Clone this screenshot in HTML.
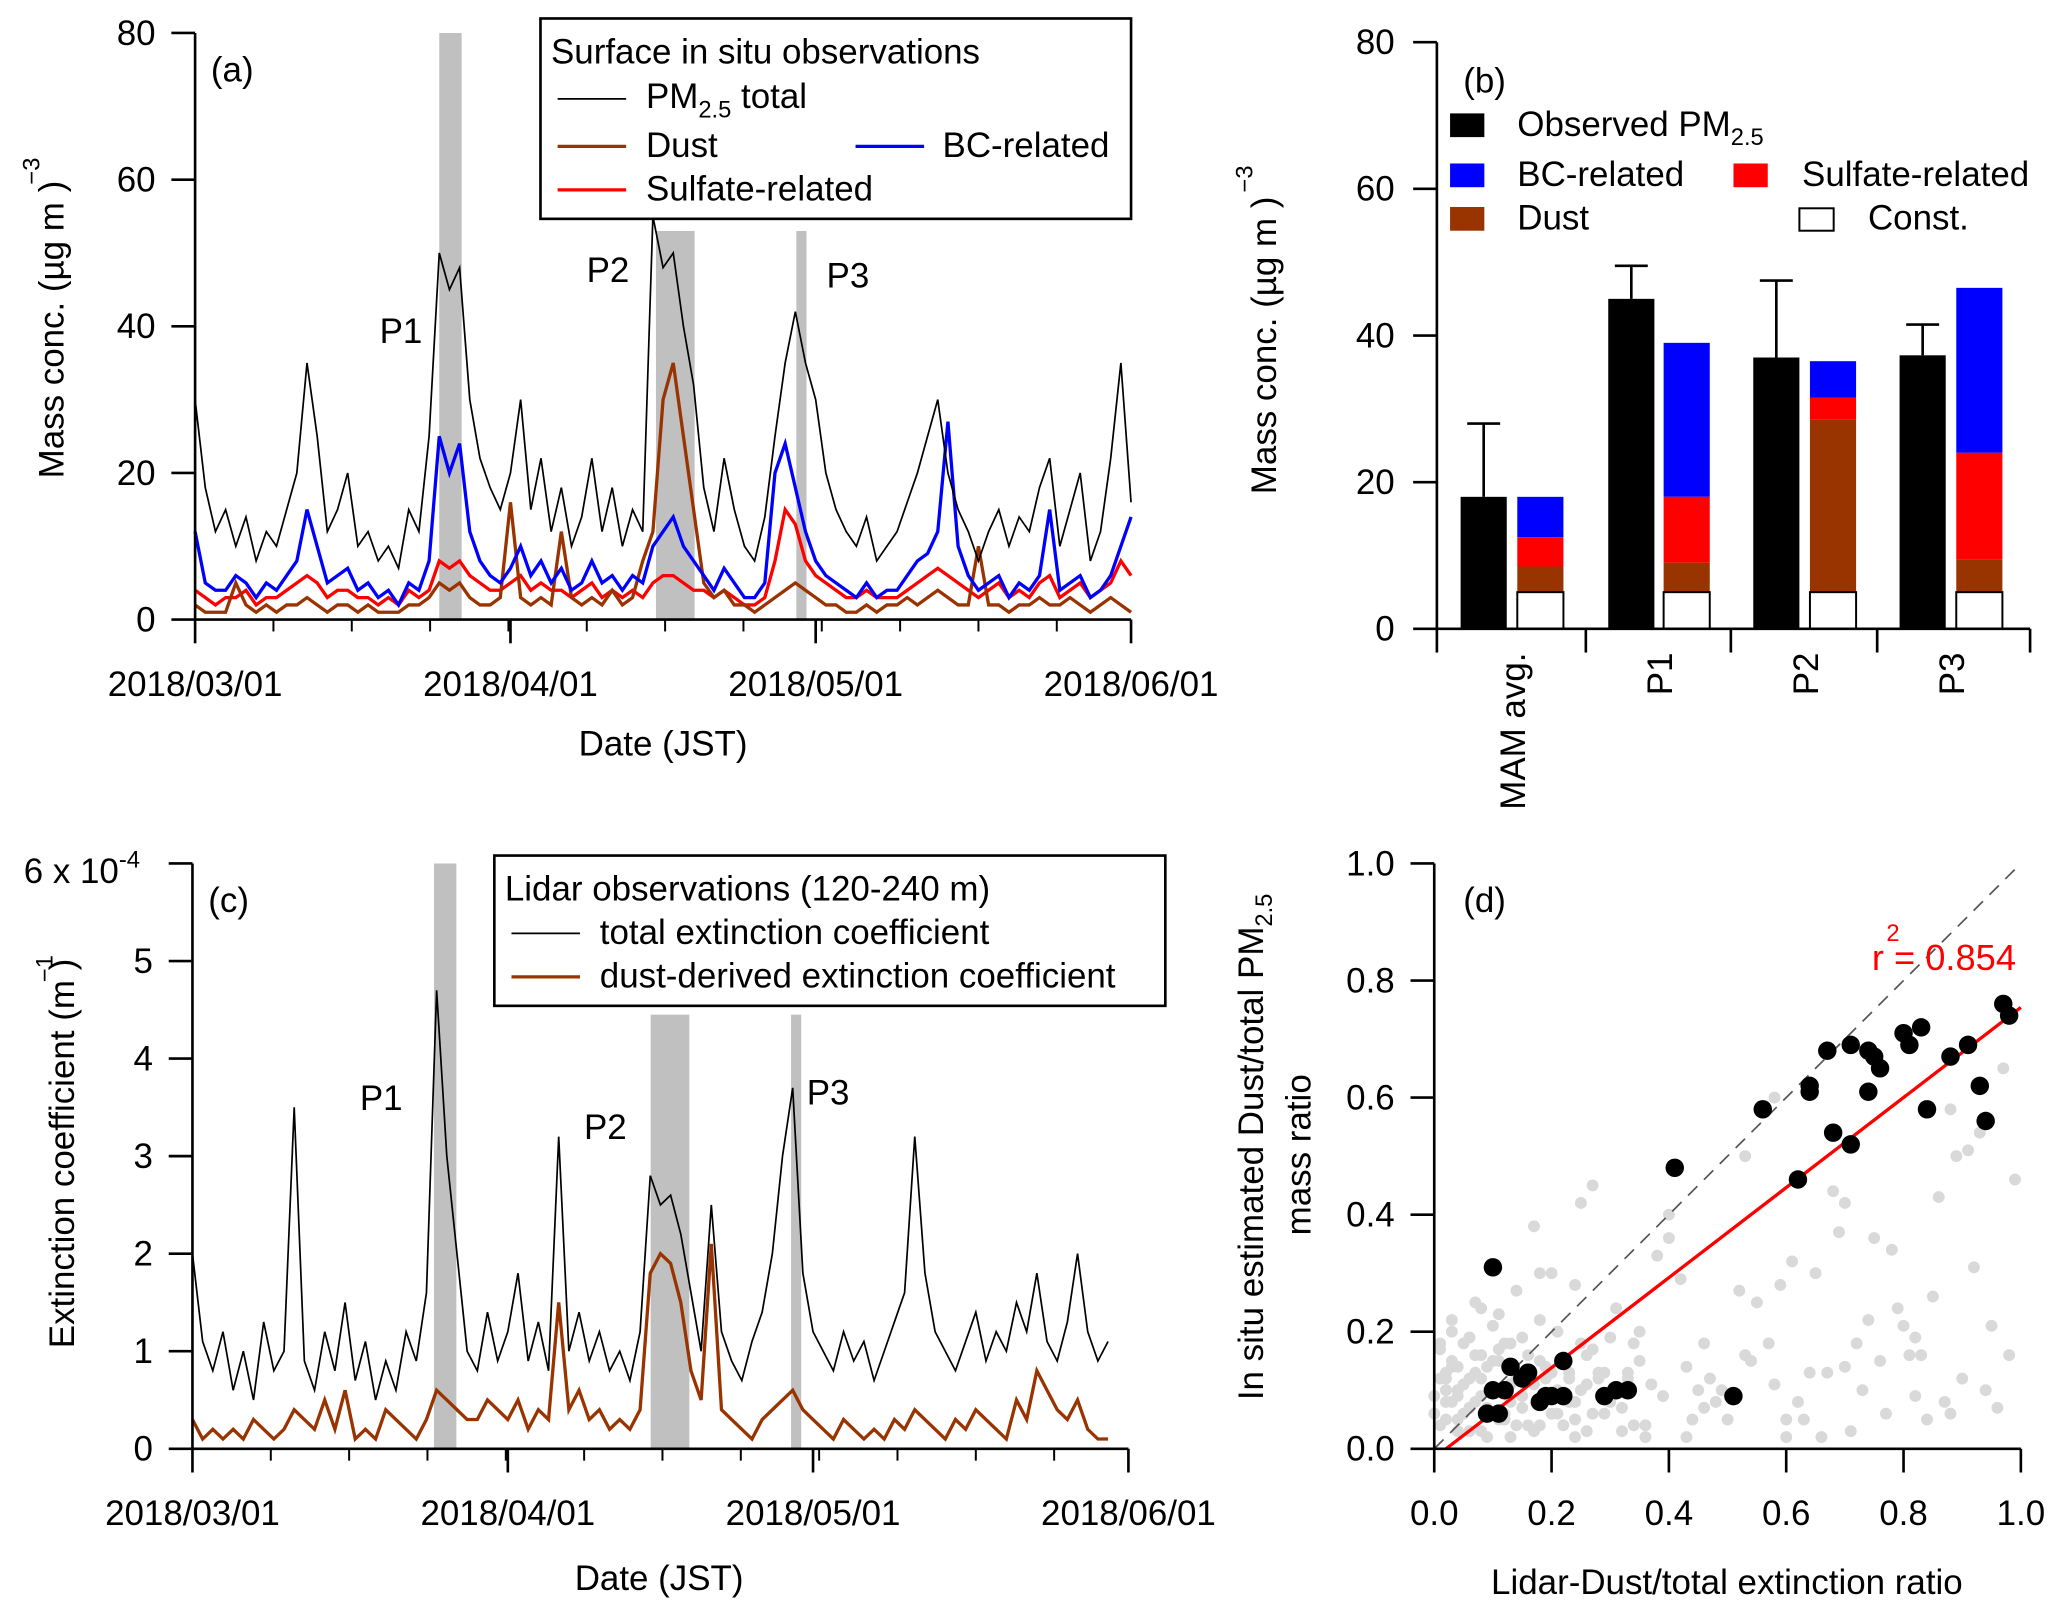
<!DOCTYPE html>
<html><head><meta charset="utf-8"><style>
html,body{margin:0;padding:0;background:#fff}
svg{display:block;font-family:"Liberation Sans",Arial,sans-serif}
</style></head><body>
<svg id="fig" width="2067" height="1617" viewBox="0 0 1568 1226.6" xmlns="http://www.w3.org/2000/svg">
<g id="pa"></g>
<g id="pb"></g>
<g id="pc"></g>
<g id="pd"></g>
</svg>
<script>
// ---------- data ----------
const dayTicks = [0, 31, 61, 92];
const dateLabels = ["2018/03/01","2018/04/01","2018/05/01","2018/06/01"];
const pmTotal = [30,18,12,15,10,14,8,12,10,15,20,35,25,12,15,20,10,12,8,10,7,15,12,25,50,45,48,30,22,18,15,20,30,15,22,12,18,10,14,22,12,18,10,15,12,55,48,50,40,32,18,12,22,15,10,8,14,25,35,42,35,30,20,15,12,10,14,8,10,12,16,20,25,30,20,15,12,8,12,15,10,14,12,18,22,10,15,20,8,12,22,35,16];
const dustA = [2,1,1,1,5,2,1,2,1,2,2,3,2,1,2,2,1,2,1,1,1,2,2,3,5,4,5,3,2,2,3,16,3,2,3,2,12,3,2,3,2,4,2,3,8,12,30,35,25,15,5,3,4,2,2,1,2,3,4,5,4,3,2,2,1,1,2,1,2,2,3,2,3,4,3,2,2,10,2,2,1,2,2,3,2,2,3,2,1,2,3,2,1];
const bcA = [12,5,4,4,6,5,3,5,4,6,8,15,10,5,6,7,4,5,3,4,2,5,4,8,25,20,24,12,8,6,5,7,10,6,8,5,7,4,5,8,5,6,4,6,5,10,12,14,10,8,6,4,7,5,3,3,5,20,24,18,12,8,6,5,4,3,5,3,4,4,6,8,9,12,27,10,6,4,5,6,3,5,4,6,15,4,5,6,3,4,6,10,14];
const sulfA = [4,3,2,3,3,4,2,3,3,4,5,6,5,3,4,4,3,3,2,3,2,4,3,4,8,7,8,6,5,4,4,5,6,4,5,4,4,3,4,5,3,4,3,4,3,5,6,6,5,4,4,3,4,3,2,2,3,8,15,13,8,6,5,4,3,3,4,3,3,3,4,5,6,7,6,5,4,3,4,5,3,4,3,5,6,3,4,5,3,4,5,8,6];
const periods = [[24,26.2,80],[45.3,49.1,53],[59.1,60.1,53]];
const extTotal = [2.0,1.1,0.8,1.2,0.6,1.0,0.5,1.3,0.8,1.0,3.5,0.9,0.6,1.2,0.8,1.5,0.7,1.1,0.5,0.9,0.6,1.2,0.9,1.6,4.7,3.0,2.0,1.0,0.8,1.4,0.9,1.2,1.8,0.9,1.3,0.8,3.2,1.0,1.4,0.9,1.2,0.8,1.0,0.7,1.2,2.8,2.5,2.6,2.2,1.6,1.0,2.5,1.2,0.9,0.7,1.1,1.4,2.0,3.0,3.7,1.8,1.2,1.0,0.8,1.2,0.9,1.1,0.7,1.0,1.3,1.6,3.2,1.8,1.2,1.0,0.8,1.1,1.4,0.9,1.2,1.0,1.5,1.2,1.8,1.1,0.9,1.3,2.0,1.2,0.9,1.1];
const extDust = [0.3,0.1,0.2,0.1,0.2,0.1,0.3,0.2,0.1,0.2,0.4,0.3,0.2,0.5,0.2,0.6,0.1,0.2,0.1,0.4,0.3,0.2,0.1,0.3,0.6,0.5,0.4,0.3,0.3,0.5,0.4,0.3,0.5,0.2,0.4,0.3,1.5,0.4,0.6,0.3,0.4,0.2,0.3,0.2,0.4,1.8,2.0,1.9,1.5,0.8,0.5,2.1,0.4,0.3,0.2,0.1,0.3,0.4,0.5,0.6,0.4,0.3,0.2,0.1,0.3,0.2,0.1,0.2,0.1,0.3,0.2,0.4,0.3,0.2,0.1,0.3,0.2,0.4,0.3,0.2,0.1,0.5,0.3,0.8,0.6,0.4,0.3,0.5,0.2,0.1,0.1];
const barCats = ["MAM avg.","P1","P2","P3"];
const obsVals = [18,45,37,37.3];
const obsErr = [28,49.5,47.5,41.5];
const constVals = [5,5,5,5];
const dustVals = [8.5,9,28.5,9.5];
const sulfVals = [12.5,18,31.5,24];
const bcVals = [18,39,36.5,46.5];
const blackX = [0.10,0.09,0.11,0.10,0.12,0.13,0.15,0.16,0.19,0.18,0.20,0.22,0.22,0.29,0.31,0.33,0.41,0.51,0.56,0.62,0.64,0.64,0.67,0.68,0.71,0.71,0.74,0.74,0.75,0.76,0.80,0.81,0.83,0.84,0.88,0.91,0.93,0.94,0.97,0.98];
const blackY = [0.31,0.06,0.06,0.10,0.10,0.14,0.12,0.13,0.09,0.08,0.09,0.09,0.15,0.09,0.10,0.10,0.48,0.09,0.58,0.46,0.62,0.61,0.68,0.54,0.52,0.69,0.61,0.68,0.67,0.65,0.71,0.69,0.72,0.58,0.67,0.69,0.62,0.56,0.76,0.74];
const grayX = [0.01,0.02,0.03,0.04,0.05,0.06,0.07,0.08,0.02,0.03,0.05,0.06,0.08,0.09,0.11,0.12,0.14,0.15,0.17,0.18,0.01,0.02,0.04,0.05,0.07,0.10,0.13,0.16,0.19,0.21,0.23,0.25,0.27,0.29,0.02,0.04,0.06,0.09,0.12,0.15,0.18,0.21,0.24,0.26,0.28,0.30,0.32,0.35,0.37,0.40,0.03,0.07,0.11,0.14,0.17,0.20,0.24,0.27,0.31,0.34,0.38,0.42,0.45,0.48,0.50,0.53,0.57,0.60,0.63,0.66,0.70,0.73,0.77,0.80,0.84,0.87,0.90,0.95,0.98,0.22,0.25,0.30,0.33,0.36,0.40,0.44,0.47,0.52,0.55,0.58,0.61,0.65,0.68,0.72,0.75,0.79,0.83,0.86,0.89,0.93,0.97,0.99,0.18,0.26,0.35,0.43,0.49,0.54,0.59,0.64,0.69,0.74,0.78,0.82,0.85,0.88,0.91,0.96,0.08,0.13,0.24,0.34,0.46,0.60,0.70,0.81,0.92,
0.00,0.01,0.01,0.02,0.03,0.03,0.04,0.05,0.06,0.07,0.08,0.09,0.10,0.11,0.12,0.13,0.14,0.15,0.16,0.17,0.19,0.20,0.21,0.23,0.24,0.26,0.27,0.28,0.30,0.32,0.00,0.02,0.04,0.06,0.08,0.11,0.13,0.15,0.18,0.20,0.23,0.25,0.29,0.33,0.36,0.39,0.43,0.46,0.53,0.58,0.62,0.67,0.71,0.76,0.82,0.88,0.94];
const grayY = [0.12,0.08,0.15,0.10,0.18,0.07,0.13,0.16,0.05,0.20,0.11,0.03,0.09,0.14,0.17,0.06,0.12,0.19,0.11,0.15,0.18,0.13,0.09,0.06,0.16,0.21,0.18,0.04,0.14,0.06,0.12,0.10,0.17,0.13,0.10,0.14,0.19,0.07,0.05,0.09,0.22,0.20,0.05,0.16,0.12,0.08,0.03,0.15,0.11,0.40,0.22,0.25,0.23,0.27,0.38,0.30,0.28,0.45,0.24,0.18,0.33,0.29,0.10,0.08,0.05,0.50,0.18,0.02,0.05,0.02,0.14,0.10,0.06,0.21,0.05,0.08,0.12,0.21,0.16,0.04,0.42,0.19,0.13,0.02,0.36,0.05,0.12,0.27,0.25,0.60,0.32,0.30,0.44,0.18,0.36,0.24,0.16,0.43,0.50,0.54,0.65,0.46,0.30,0.03,0.20,0.02,0.10,0.15,0.28,0.13,0.37,0.22,0.34,0.19,0.26,0.58,0.51,0.07,0.24,0.11,0.02,0.04,0.18,0.05,0.42,0.16,0.31,
0.09,0.04,0.17,0.12,0.08,0.14,0.03,0.11,0.19,0.08,0.12,0.02,0.15,0.05,0.18,0.08,0.04,0.09,0.16,0.03,0.12,0.06,0.10,0.13,0.08,0.11,0.06,0.13,0.09,0.07,0.06,0.10,0.05,0.12,0.03,0.15,0.02,0.07,0.04,0.13,0.08,0.18,0.06,0.12,0.04,0.09,0.14,0.07,0.16,0.11,0.08,0.13,0.03,0.15,0.09,0.06,0.10];

// ---------- helpers ----------
const NS = "http://www.w3.org/2000/svg";
function mk(parent, tag, attrs, text){const e=document.createElementNS(NS,tag);for(const k in attrs)e.setAttribute(k,attrs[k]);if(text!==undefined)e.textContent=text;parent.appendChild(e);return e;}
const FS = 26.5;

// ---------- panel a ----------
(function(){
const g=document.getElementById('pa');
const x=d=>148+d*(710/92), y=v=>470-v*(445/80);
periods.forEach((p,i)=>{const r=mk(g,'rect',{x:x(p[0]),y:y(p[2]),width:x(p[1])-x(p[0]),height:y(0)-y(p[2]),fill:'#c0c0c0'});
});
const line=(arr,col,w,name)=>{const el=mk(g,'polyline',{points:arr.map((v,i)=>x(i)+','+y(v)).join(' '),fill:'none',stroke:col,'stroke-width':w});
};
line(sulfA,'#ff0000',2.5,'sulfate-line');line(dustA,'#993300',2.5,'dust-line');line(bcA,'#0000ff',2.5,'bc-line');line(pmTotal,'#000',1.3,'pm25-line');
mk(g,'line',{x1:148,y1:25,x2:148,y2:470,stroke:'#000','stroke-width':2});
mk(g,'line',{x1:148,y1:470,x2:858,y2:470,stroke:'#000','stroke-width':2});
[0,20,40,60,80].forEach(v=>{mk(g,'line',{x1:130,y1:y(v),x2:148,y2:y(v),stroke:'#000','stroke-width':2});
const t=mk(g,'text',{x:118,y:y(v)+9,'font-size':FS,'text-anchor':'end'},v);});
dayTicks.forEach((d,i)=>{mk(g,'line',{x1:x(d),y1:470,x2:x(d),y2:488,stroke:'#000','stroke-width':2});
const t=mk(g,'text',{x:x(d),y:528,'font-size':FS,'text-anchor':'middle'},dateLabels[i]);});
for(let d=0;d<=92;d+=7.7){mk(g,'line',{x1:x(d),y1:470,x2:x(d),y2:479,stroke:'#000','stroke-width':1.5});}
mk(g,'text',{x:503,y:573,'font-size':FS,'text-anchor':'middle',},'Date (JST)');
mk(g,'text',{transform:'translate(48,250) rotate(-90)','font-size':FS,'text-anchor':'middle',},'Mass conc. (µg m      )');
mk(g,'text',{transform:'translate(30,140) rotate(-90)','font-size':18},'−3');
mk(g,'text',{x:160,y:62,'font-size':FS},'(a)');
mk(g,'text',{x:288,y:260,'font-size':FS},'P1');mk(g,'text',{x:445,y:214,'font-size':FS},'P2');mk(g,'text',{x:627,y:218,'font-size':FS},'P3');
const L=mk(g,'g',{});
mk(L,'rect',{x:410,y:14,width:448,height:152,fill:'#fff',stroke:'#000','stroke-width':2});
mk(L,'text',{x:418,y:48,'font-size':FS},'Surface in situ observations');
mk(L,'line',{x1:423,y1:75,x2:475,y2:75,stroke:'#000','stroke-width':1.3});
const t1=mk(L,'text',{x:490,y:82,'font-size':FS},'PM');mk(t1,'tspan',{'font-size':18,dy:7},'2.5');mk(t1,'tspan',{dy:-7},' total');
mk(L,'line',{x1:423,y1:111,x2:475,y2:111,stroke:'#993300','stroke-width':2.5});mk(L,'text',{x:490,y:119,'font-size':FS},'Dust');
mk(L,'line',{x1:649,y1:111,x2:701,y2:111,stroke:'#0000ff','stroke-width':2.5});mk(L,'text',{x:715,y:119,'font-size':FS},'BC-related');
mk(L,'line',{x1:423,y1:144,x2:475,y2:144,stroke:'#ff0000','stroke-width':2.5});mk(L,'text',{x:490,y:152,'font-size':FS},'Sulfate-related');
})();

// ---------- panel b ----------
(function(){
const g=document.getElementById('pb');
const y=v=>477-v*(445/80);
const obsX=[1108,1220,1330,1441], stX=[1151,1262,1373,1484], bw=35;
barCats.forEach((c,i)=>{
 const o=mk(g,'rect',{x:obsX[i],y:y(obsVals[i]),width:bw,height:y(0)-y(obsVals[i]),fill:'#000'});
 mk(g,'line',{x1:obsX[i]+bw/2,y1:y(obsErr[i]),x2:obsX[i]+bw/2,y2:y(obsVals[i]),stroke:'#000','stroke-width':2});
 mk(g,'line',{x1:obsX[i]+5,y1:y(obsErr[i]),x2:obsX[i]+bw-5,y2:y(obsErr[i]),stroke:'#000','stroke-width':2});
 const seg=(lo,hi,col,name)=>{const r=mk(g,'rect',{x:stX[i],y:y(hi),width:bw,height:y(lo)-y(hi),fill:col,stroke:col==='#fff'?'#000':'none','stroke-width':1.5});};
 seg(sulfVals[i],bcVals[i],'#0000ff','bc-segment');seg(dustVals[i],sulfVals[i],'#ff0000','sulfate-segment');seg(constVals[i],dustVals[i],'#993300','dust-segment');seg(0,constVals[i],'#fff','const-segment');
 const t=mk(g,'text',{transform:`translate(${(obsX[i]+stX[i]+bw)/2+10},495) rotate(-90)`,'font-size':FS,'text-anchor':'end'},c);
});
mk(g,'line',{x1:1090,y1:32,x2:1090,y2:477,stroke:'#000','stroke-width':2});
mk(g,'line',{x1:1090,y1:477,x2:1540,y2:477,stroke:'#000','stroke-width':2});
[1090,1203,1313,1424,1540].forEach(xx=>mk(g,'line',{x1:xx,y1:477,x2:xx,y2:495,stroke:'#000','stroke-width':2}));
[0,20,40,60,80].forEach(v=>{mk(g,'line',{x1:1072,y1:y(v),x2:1090,y2:y(v),stroke:'#000','stroke-width':2});
const t=mk(g,'text',{x:1058,y:y(v)+9,'font-size':FS,'text-anchor':'end'},v);});
mk(g,'text',{transform:'translate(968,262) rotate(-90)','font-size':FS,'text-anchor':'middle',},'Mass conc. (µg m      )');
mk(g,'text',{transform:'translate(950,146) rotate(-90)','font-size':18},'−3');
mk(g,'text',{x:1110,y:70,'font-size':FS},'(b)');
const L=mk(g,'g',{});
mk(L,'rect',{x:1100,y:86,width:26,height:18,fill:'#000'});const t1=mk(L,'text',{x:1151,y:103,'font-size':FS},'Observed PM');mk(t1,'tspan',{'font-size':18,dy:7},'2.5');
mk(L,'rect',{x:1100,y:124,width:26,height:18,fill:'#0000ff'});mk(L,'text',{x:1151,y:141,'font-size':FS},'BC-related');
mk(L,'rect',{x:1315,y:124,width:26,height:18,fill:'#ff0000'});mk(L,'text',{x:1367,y:141,'font-size':FS},'Sulfate-related');
mk(L,'rect',{x:1100,y:157,width:26,height:18,fill:'#993300'});mk(L,'text',{x:1151,y:174,'font-size':FS},'Dust');
mk(L,'rect',{x:1365,y:158,width:26,height:17,fill:'#fff',stroke:'#000','stroke-width':1.5});mk(L,'text',{x:1417,y:174,'font-size':FS},'Const.');
})();

// ---------- panel c ----------
(function(){
const g=document.getElementById('pc');
const x=d=>146+d*(710/92), y=v=>1099-v*74;
const tops=[6,4.45,4.45];
periods.forEach((p,i)=>{const r=mk(g,'rect',{x:x(p[0])-2,y:y(tops[i]),width:x(p[1])-x(p[0]),height:y(0)-y(tops[i]),fill:'#c0c0c0'});});
const line=(arr,col,w,name)=>{const el=mk(g,'polyline',{points:arr.map((v,i)=>x(i)+','+y(v)).join(' '),fill:'none',stroke:col,'stroke-width':w});};
line(extDust,'#993300',2.5,'dust-extinction-line');line(extTotal,'#000',1.3,'total-extinction-line');
mk(g,'line',{x1:146,y1:655,x2:146,y2:1099,stroke:'#000','stroke-width':2});
mk(g,'line',{x1:146,y1:1099,x2:856,y2:1099,stroke:'#000','stroke-width':2});
[0,1,2,3,4,5].forEach(v=>{mk(g,'line',{x1:128,y1:y(v),x2:146,y2:y(v),stroke:'#000','stroke-width':2});
const t=mk(g,'text',{x:116,y:y(v)+9,'font-size':FS,'text-anchor':'end'},v);});
mk(g,'line',{x1:128,y1:655,x2:146,y2:655,stroke:'#000','stroke-width':2});
const t6=mk(g,'text',{x:18,y:670,'font-size':FS},'6 x 10');mk(t6,'tspan',{'font-size':18,dy:-12},'-4');
dayTicks.forEach((d,i)=>{mk(g,'line',{x1:x(d),y1:1099,x2:x(d),y2:1117,stroke:'#000','stroke-width':2});
const t=mk(g,'text',{x:x(d),y:1157,'font-size':FS,'text-anchor':'middle'},dateLabels[i]);});
for(let d=0;d<=92;d+=7.7){mk(g,'line',{x1:x(d),y1:1099,x2:x(d),y2:1108,stroke:'#000','stroke-width':1.5});}
mk(g,'text',{x:500,y:1206,'font-size':FS,'text-anchor':'middle',},'Date (JST)');
mk(g,'text',{transform:'translate(56,875) rotate(-90)','font-size':FS,'text-anchor':'middle',},'Extinction coefficient (m    )');
mk(g,'text',{transform:'translate(40,745) rotate(-90)','font-size':18},'−1');
mk(g,'text',{x:158,y:692,'font-size':FS},'(c)');
mk(g,'text',{x:273,y:842,'font-size':FS},'P1');mk(g,'text',{x:443,y:864,'font-size':FS},'P2');mk(g,'text',{x:612,y:838,'font-size':FS},'P3');
const L=mk(g,'g',{});
mk(L,'rect',{x:375,y:649,width:509,height:114,fill:'#fff',stroke:'#000','stroke-width':2});
mk(L,'text',{x:383,y:683,'font-size':FS},'Lidar observations (120-240 m)');
mk(L,'line',{x1:388,y1:708,x2:440,y2:708,stroke:'#000','stroke-width':1.3});mk(L,'text',{x:455,y:716,'font-size':FS},'total extinction coefficient');
mk(L,'line',{x1:388,y1:741,x2:440,y2:741,stroke:'#993300','stroke-width':2.5});mk(L,'text',{x:455,y:749,'font-size':FS},'dust-derived extinction coefficient');
})();

// ---------- panel d ----------
(function(){
const g=document.getElementById('pd');
const x=v=>1088+v*445, y=v=>1099-v*444;
grayX.forEach((v,i)=>{const c=mk(g,'circle',{cx:x(v),cy:y(grayY[i]),r:4.5,fill:'#d9d9d9'});});
mk(g,'line',{x1:x(0),y1:y(0),x2:x(1),y2:y(1),stroke:'#555','stroke-width':1.3,'stroke-dasharray':'10,7',});
mk(g,'line',{x1:x(0.02),y1:y(0),x2:x(1),y2:y(0.754),stroke:'#ff0000','stroke-width':2.5,});
blackX.forEach((v,i)=>{const c=mk(g,'circle',{cx:x(v),cy:y(blackY[i]),r:7,fill:'#000'});});
mk(g,'line',{x1:1088,y1:655,x2:1088,y2:1099,stroke:'#000','stroke-width':2});
mk(g,'line',{x1:1088,y1:1099,x2:1533,y2:1099,stroke:'#000','stroke-width':2});
[0,0.2,0.4,0.6,0.8,1.0].forEach(v=>{
 mk(g,'line',{x1:1070,y1:y(v),x2:1088,y2:y(v),stroke:'#000','stroke-width':2});
 const t=mk(g,'text',{x:1058,y:y(v)+9,'font-size':FS,'text-anchor':'end'},v.toFixed(1));
 mk(g,'line',{x1:x(v),y1:1099,x2:x(v),y2:1117,stroke:'#000','stroke-width':2});
 const u=mk(g,'text',{x:x(v),y:1157,'font-size':FS,'text-anchor':'middle'},v.toFixed(1));
});
mk(g,'text',{x:1310,y:1209,'font-size':FS,'text-anchor':'middle',},'Lidar-Dust/total extinction ratio');
const yt=mk(g,'text',{transform:'translate(958,870) rotate(-90)','font-size':FS,'text-anchor':'middle',},'In situ estimated Dust/total PM');mk(yt,'tspan',{'font-size':18,dy:7},'2.5');
mk(g,'text',{x:1420,y:736,'font-size':FS+1,fill:'#ff0000',},'r  = 0.854');
mk(g,'text',{transform:'translate(994,876) rotate(-90)','font-size':FS,'text-anchor':'middle'},'mass ratio');
mk(g,'text',{x:1110,y:692,'font-size':FS},'(d)');
mk(g,'text',{x:1431,y:714,'font-size':18,fill:'#ff0000'},'2');
})();
</script>
</body></html>
